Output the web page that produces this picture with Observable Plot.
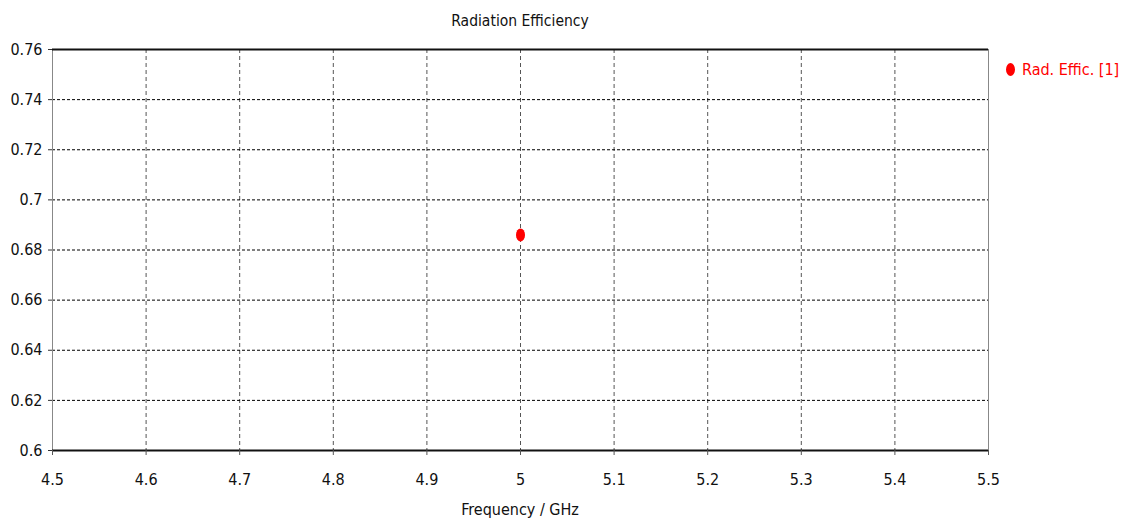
<!DOCTYPE html>
<html>
<head>
<meta charset="utf-8">
<script src="https://cdn.jsdelivr.net/npm/d3@7"></script>
<script src="https://cdn.jsdelivr.net/npm/@observablehq/plot@0.6"></script>
<style>
  html, body { margin: 0; padding: 0; background: #fff; }
  #wrap { position: relative; width: 1127px; height: 524px; font-family: "DejaVu Sans Condensed", "DejaVu Sans", sans-serif; font-stretch: condensed; color: #111; }
  #title { position: absolute; top: 12px; left: 52px; width: 936px; text-align: center; font-size: 15.5px; }
  #xlabel { position: absolute; top: 500px; left: 52px; width: 936px; text-align: center; font-size: 16px; }
  #legend { position: absolute; top: 60px; left: 1006px; font-size: 16px; color: #ff0000; display: flex; align-items: center; white-space: nowrap; }
  #legend .mk { display: inline-block; width: 9px; height: 13px; border-radius: 50%; background: #ff0000; margin-right: 7px; }
  svg text { font-family: "DejaVu Sans Condensed", "DejaVu Sans", sans-serif; font-stretch: condensed; }
</style>
</head>
<body>
<div id="wrap">
  <div id="title"></div>
  <div id="chart"></div>
  <div id="xlabel"></div>
  <div id="legend"><span class="mk"></span><span id="legtext"></span></div>
</div>
<script>
const chartTitle = "Radiation Efficiency";
const xLabel = "Frequency / GHz";
const seriesName = "Rad. Effic. [1]";
const xDomain = [4.5, 5.5];
const yDomain = [0.6, 0.76];
const xTicks = [4.5, 4.6, 4.7, 4.8, 4.9, 5.0, 5.1, 5.2, 5.3, 5.4, 5.5];
const yTicks = [0.6, 0.62, 0.64, 0.66, 0.68, 0.7, 0.72, 0.74, 0.76];
const frequency = [5.0];
const efficiency = [0.686];

const points = frequency.map((f, i) => ({f, e: efficiency[i]}));
const fmt = d => String(+d.toFixed(2));

const ellipse = {
  draw(context, size) {
    const rx = 4.5, ry = 6.5;
    const n = 16;
    for (let i = 0; i < n; i++) {
      const a = (i / n) * 2 * Math.PI;
      const x = rx * Math.cos(a), y = ry * Math.sin(a);
      i ? context.lineTo(x, y) : context.moveTo(x, y);
    }
    context.closePath();
  }
};

const chart = Plot.plot({
  width: 1127,
  height: 524,
  marginTop: 49,
  marginBottom: 74,
  marginLeft: 52,
  marginRight: 139,
  style: {fontSize: "16px", color: "#111", background: "#fff"},
  x: {domain: xDomain, label: null},
  y: {domain: yDomain, label: null},
  marks: [
    Plot.gridX(xTicks.slice(1, -1), {stroke: "#555", strokeOpacity: 1, strokeDasharray: "4,3", strokeWidth: 1}),
    Plot.gridY(yTicks.slice(1, -1), {stroke: "#000", strokeOpacity: 1, strokeDasharray: "3,2", strokeWidth: 1}),
    Plot.ruleX(xDomain, {stroke: "#888", strokeWidth: 1}),
    Plot.ruleY(yDomain, {stroke: "#111", strokeWidth: 2}),
    Plot.axisX({ticks: xTicks, tickFormat: fmt, tickSize: 5, tickPadding: 18, stroke: "#555", label: null}),
    Plot.axisY({ticks: yTicks, tickFormat: fmt, tickSize: 4, tickPadding: 6, stroke: "#333", label: null}),
    Plot.dot(points, {x: "f", y: "e", fill: "#ff0000", stroke: "none", symbol: ellipse, r: 5})
  ]
});
document.getElementById("chart").appendChild(chart);
document.getElementById("title").textContent = chartTitle;
document.getElementById("xlabel").textContent = xLabel;
document.getElementById("legtext").textContent = seriesName;
</script>
</body>
</html>
